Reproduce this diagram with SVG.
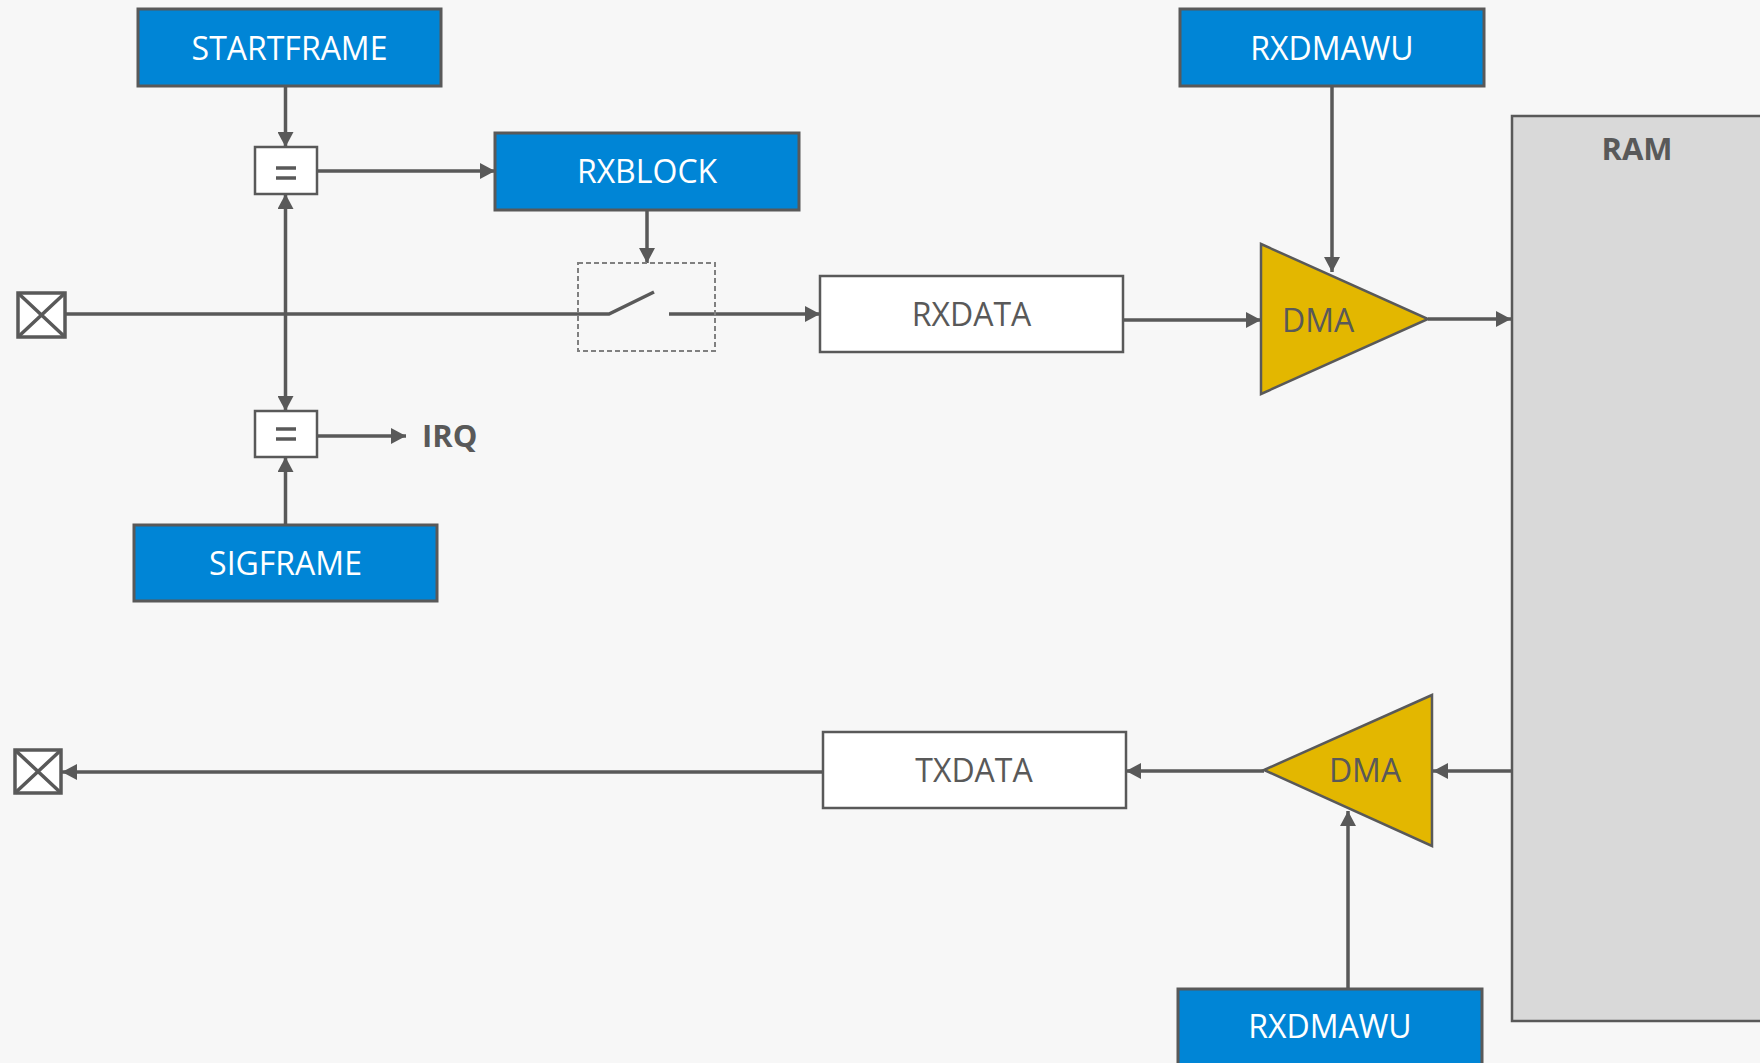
<svg xmlns="http://www.w3.org/2000/svg" width="1760" height="1063" viewBox="0 0 1760 1063">
  <style>
    .reg { fill: #0085D6; stroke: #595959; stroke-width: 3; }
    .reg-t { font-family: "Open Sans", "Noto Sans", "Liberation Sans", sans-serif; font-size: 32px; fill: #FFFFFF; text-anchor: middle; }
    .data { fill: #FFFFFF; stroke: #595959; stroke-width: 2.5; }
    .data-t { font-family: "Open Sans", "Noto Sans", "Liberation Sans", sans-serif; font-size: 32px; fill: #595959; text-anchor: middle; }
    .start { text-anchor: start; }
    .cmp { fill: #FFFFFF; stroke: #595959; stroke-width: 2.5; }
    .bar { stroke: #595959; stroke-width: 3.5; }
    .dma { fill: #E3B700; stroke: #595959; stroke-width: 2.5; stroke-linejoin: miter; }
    .port { fill: #FFFFFF; stroke: #595959; stroke-width: 3.5; }
    .bold-t { font-family: "Open Sans", "Noto Sans", "Liberation Sans", sans-serif; font-size: 31px; font-weight: bold; fill: #595959; }
    .wire { fill: none; stroke: #595959; stroke-width: 3.5; }
  </style>
  <defs>
    <marker id="arrow" viewBox="0 0 15 16" refX="15" refY="8" markerWidth="15" markerHeight="16" markerUnits="userSpaceOnUse" orient="auto-start-reverse">
      <path d="M0,0 L15,8 L0,16 Z" fill="#595959"/>
    </marker>
  </defs>

  <rect x="0" y="0" width="1760" height="1063" fill="#F7F7F7"/>

  <!-- memory block -->
  <g id="ram">
    <rect x="1512" y="116" width="270" height="905" fill="#D9D9D9" stroke="#595959" stroke-width="2.5"/>
    <text class="bold-t" x="1637" y="160" text-anchor="middle">RAM</text>
  </g>

  <!-- connectors -->
  <g id="connectors">
    <!-- receive path -->
    <path class="wire" d="M65,314 H609 L654,292"/>
    <path class="wire" d="M669,314 H820" marker-end="url(#arrow)"/>
    <path class="wire" d="M285.5,86 V147" marker-end="url(#arrow)"/>
    <path class="wire" d="M317,171 H495" marker-end="url(#arrow)"/>
    <path class="wire" d="M285.5,194 V411" marker-start="url(#arrow)" marker-end="url(#arrow)"/>
    <path class="wire" d="M647,210 V263" marker-end="url(#arrow)"/>
    <path class="wire" d="M317,436 H406" marker-end="url(#arrow)"/>
    <path class="wire" d="M285.5,525 V457" marker-end="url(#arrow)"/>
    <path class="wire" d="M1123,320 H1261" marker-end="url(#arrow)"/>
    <path class="wire" d="M1428,319 H1511" marker-end="url(#arrow)"/>
    <path class="wire" d="M1332,86 V272" marker-end="url(#arrow)"/>
    <!-- transmit path -->
    <path class="wire" d="M1513,771 H1433" marker-end="url(#arrow)"/>
    <path class="wire" d="M1264,771 H1126" marker-end="url(#arrow)"/>
    <path class="wire" d="M823,772 H62" marker-end="url(#arrow)"/>
    <path class="wire" d="M1348,989 V811" marker-end="url(#arrow)"/>
  </g>

  <!-- switch enclosure -->
  <g id="switch">
    <rect x="578" y="263" width="137" height="88" fill="none" stroke="#808080" stroke-width="2" stroke-dasharray="5,3"/>
  </g>

  <g id="startframe">
    <rect class="reg" x="138" y="9" width="303" height="77"/>
    <text class="reg-t" x="289.5" y="60">STARTFRAME</text>
  </g>

  <g id="rxblock">
    <rect class="reg" x="495" y="133" width="304" height="77"/>
    <text class="reg-t" x="647" y="183">RXBLOCK</text>
  </g>

  <g id="sigframe">
    <rect class="reg" x="134" y="525" width="303" height="76"/>
    <text class="reg-t" x="285.5" y="575">SIGFRAME</text>
  </g>

  <g id="rxdmawu-top">
    <rect class="reg" x="1180" y="9" width="304" height="77"/>
    <text class="reg-t" x="1332" y="60">RXDMAWU</text>
  </g>

  <g id="rxdmawu-bottom">
    <rect class="reg" x="1178" y="989" width="304" height="80"/>
    <text class="reg-t" x="1330" y="1038">RXDMAWU</text>
  </g>

  <g id="cmp-start">
    <rect class="cmp" x="255" y="147" width="62" height="47"/>
    <line class="bar" x1="276" y1="168" x2="296" y2="168"/>
    <line class="bar" x1="276" y1="178" x2="296" y2="178"/>
  </g>

  <g id="cmp-sig">
    <rect class="cmp" x="255" y="411" width="62" height="46"/>
    <line class="bar" x1="276" y1="429" x2="296" y2="429"/>
    <line class="bar" x1="276" y1="439" x2="296" y2="439"/>
  </g>

  <g id="irq">
    <text class="bold-t" x="422" y="447">IRQ</text>
  </g>

  <g id="rxdata">
    <rect class="data" x="820" y="276" width="303" height="76"/>
    <text class="data-t" x="971.5" y="326">RXDATA</text>
  </g>

  <g id="txdata">
    <rect class="data" x="823" y="732" width="303" height="76"/>
    <text class="data-t" x="974" y="782">TXDATA</text>
  </g>

  <g id="dma-rx">
    <polygon class="dma" points="1261,244 1428,319 1261,394"/>
    <text class="data-t start" x="1282" y="332">DMA</text>
  </g>

  <g id="dma-tx">
    <polygon class="dma" points="1432,695 1264,770 1432,846"/>
    <text class="data-t" x="1365" y="782">DMA</text>
  </g>

  <g id="port-rx">
    <rect class="port" x="18" y="293" width="47" height="44"/>
    <path class="wire" d="M18,293 L65,337 M65,293 L18,337"/>
  </g>

  <g id="port-tx">
    <rect class="port" x="15" y="750" width="46" height="43"/>
    <path class="wire" d="M15,750 L61,793 M61,750 L15,793"/>
  </g>
</svg>
